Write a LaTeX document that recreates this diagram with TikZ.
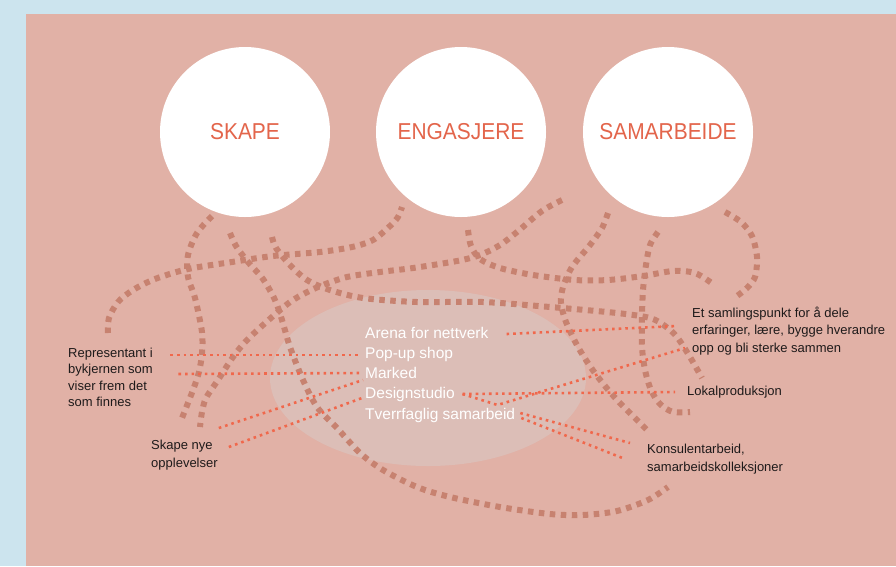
\documentclass[tikz,border=0pt]{standalone}
\usepackage{fontspec}
\setmainfont{Liberation Sans}
\usetikzlibrary{shapes.geometric}
\definecolor{skyback}{HTML}{CCE4EE}
\definecolor{panel}{HTML}{E1B1A6}
\definecolor{hubfill}{HTML}{DCBEB7}
\definecolor{trail}{HTML}{C78270}
\definecolor{coral}{HTML}{F0684C}
\definecolor{headred}{HTML}{E3654B}
\definecolor{ink}{HTML}{1E1A1A}
\begin{document}
\begin{tikzpicture}[x=1pt,y=-1pt,
  trailline/.style={trail, line width=6pt, dash pattern=on 5.5pt off 5.5pt},
  link/.style={coral, line width=2.6pt, dash pattern=on 2.6pt off 4pt},
  theme/.style={circle, fill=white, minimum size=170pt, inner sep=0pt,
    text=headred, font=\fontsize{23}{26}\selectfont},
  item/.style={anchor=base west, inner sep=0pt, text=white,
    font=\fontsize{15.5}{18}\selectfont},
  note/.style={anchor=base west, inner sep=0pt, text=ink,
    font=\fontsize{13}{16}\selectfont},
]
\useasboundingbox (0,0) rectangle (896,566);
\fill[skyback] (0,0) rectangle (896,566);
\fill[panel] (26,14) rectangle (896,566);

% the three themes
\node[theme] (skape) at (245,132) {\scalebox{0.91}[1]{SKAPE}};
\node[theme] (engasjere) at (461,132) {\scalebox{0.91}[1]{ENGASJERE}};
\node[theme] (samarbeide) at (668,132) {\scalebox{0.91}[1]{SAMARBEIDE}};

% central hub
\node[ellipse, fill=hubfill, minimum width=316pt, minimum height=176pt,
  inner sep=0pt] (hub) at (428,378) {};

% winding trails
\draw[trailline] plot[smooth, tension=0.5] coordinates {
  (212,216) (197,233) (188,255) (188,277) (195,298) (202,332) (202,353)
  (199,372) (193,390) (182,418)};
\draw[trailline] plot[smooth, tension=0.5] coordinates {
  (108,333) (109,318) (118,302) (133,290) (155,279) (188,269) (232,262)
  (273,256) (320,252) (352,247) (373,240) (390,226) (398,217) (402,207)};
\draw[trailline] plot[smooth, tension=0.5] coordinates {
  (230,233) (236,246) (248,262) (263,279) (275,300) (282,320) (290,347)
  (303,380) (317,407) (337,428) (360,453) (383,470) (417,487) (450,497)
  (500,507) (550,514) (583,515) (617,511) (648,500) (668,487)};
\draw[trailline] plot[smooth, tension=0.5] coordinates {
  (272,237) (276,248) (290,265) (307,280) (330,290) (363,298) (417,302)
  (483,302) (550,307) (617,313) (650,318) (665,326) (677,337) (690,357)
  (702,378)};
\draw[trailline] plot[smooth, tension=0.5] coordinates {
  (608,213) (602,228) (590,245) (572,267) (563,287) (561,303) (566,322)
  (578,347) (592,369) (605,386) (618,401) (632,415) (650,433)};
\draw[trailline] plot[smooth, tension=0.5] coordinates {
  (468,230) (471,246) (480,259) (500,268) (533,275) (575,280) (608,280)
  (643,276) (673,271) (695,273) (713,284)};
\draw[trailline] plot[smooth, tension=0.5] coordinates {
  (562,200) (542,211) (517,232) (500,245) (480,255) (457,261) (413,268)
  (380,272) (347,277) (318,287) (293,300) (272,317) (247,340) (233,357)
  (218,380) (206,398) (202,412) (200,427)};
\draw[trailline] plot[smooth, tension=0.5] coordinates {
  (658,232) (650,245) (646,265) (643,290) (642,317) (642,347) (645,370)
  (651,390) (660,404) (673,412) (690,412)};
\draw[trailline] plot[smooth, tension=0.5] coordinates {
  (725,212) (741,222) (752,236) (757,257) (755,277) (747,288) (737,296)};

% hub entries
\node[item] (arena)  at (365,338)   {Arena for nettverk};
\node[item] (popup)  at (365,358)   {Pop-up shop};
\node[item] (marked) at (365,378.5) {Marked};
\node[item] (design) at (365,398.5) {Designstudio};
\node[item] (tverr)  at (365,419)   {Tverrfaglig samarbeid};

% outer notes
\node[note] (repA) at (68,357)   {Representant i};
\node[note] (repB) at (68,373.5) {bykjernen som};
\node[note] (repC) at (68,390)   {viser frem det};
\node[note] (repD) at (68,406.5) {som finnes};
\node[note] (nyeA) at (151,449)  {Skape nye};
\node[note] (nyeB) at (151,467)  {opplevelser};
\node[note] (samA) at (692,317)  {Et samlingspunkt for å dele};
\node[note] (samB) at (692,334.5){erfaringer, lære, bygge hverandre};
\node[note] (samC) at (692,352)  {opp og bli sterke sammen};
\node[note] (lokal) at (687,395) {Lokalproduksjon};
\node[note] (konsA) at (647,453) {Konsulentarbeid,};
\node[note] (konsB) at (647,471) {samarbeidskolleksjoner};

% links between notes and hub entries
\draw[link] ([shift={(17.5,-2)}]repA.base east) -- ([shift={(-7,-3)}]popup.base west);
\draw[link] ([shift={(25.5,0.5)}]repB.base east) -- ([shift={(-2,-5.5)}]marked.base west);
\draw[link] ([shift={(6,-21)}]nyeA.base east) -- ([shift={(-2,1.5)}]marked.base west);
\draw[link] ([shift={(16,-2)}]nyeA.base east) -- ([shift={(-3,-0.5)}]design.base west);
\draw[link] ([shift={(18,-4)}]arena.base east) -- ([shift={(-15,9)}]samA.base west);
\draw[link] ([shift={(7.5,-4.5)}]design.base east) -- ++(35,11) -- ([shift={(-7,-4)}]samC.base west);
\draw[link] ([shift={(7.5,-4.5)}]design.base east) -- ([shift={(-12,-3)}]lokal.base west);
\draw[link] ([shift={(5,-6)}]tverr.base east) -- ([shift={(-17,-10)}]konsA.base west);
\draw[link] ([shift={(6,-1)}]tverr.base east) -- ([shift={(-22,6)}]konsA.base west);
\end{tikzpicture}
\end{document}
